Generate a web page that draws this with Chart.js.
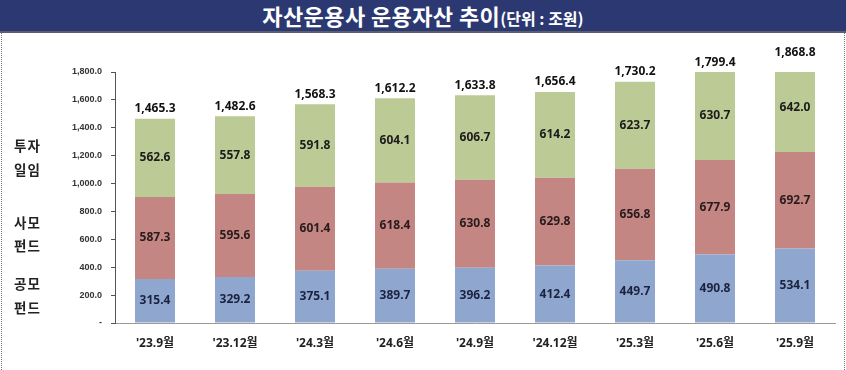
<!DOCTYPE html>
<html>
<head>
<meta charset="utf-8">
<script src="https://cdn.jsdelivr.net/npm/chart.js@4"></script>
<style>
  html, body { margin: 0; padding: 0; background: #fff; }
  #wrap { position: relative; width: 846px; height: 370px; overflow: hidden; background: #fff; }
  #titlebar { position: absolute; left: 0; top: 0; width: 846px; height: 31px; background: #2b3872; border-bottom: 2px solid #5a5e6e; text-align: center; color: #fff; font-family: "Noto Sans CJK KR", sans-serif; font-weight: bold; line-height: 31px; white-space: nowrap; }
  #titlebar .main { font-size: 22px; letter-spacing: 0.4px; }
  #titlebar .sub { font-size: 16px; letter-spacing: 0px; }
  #frameL { position: absolute; left: 1px; top: 33px; width: 0; height: 337px; border-left: 1px dotted #777; }
  #frameR { position: absolute; left: 844px; top: 33px; width: 0; height: 337px; border-left: 1px dotted #777; }
  .side { position: absolute; left: 14px; font-family: "Noto Sans CJK KR", sans-serif; font-weight: bold; font-size: 13.5px; color: #222; line-height: 16px; letter-spacing: 1px; }
  canvas { position: absolute; left: 0; top: 0; }
</style>
</head>
<body>
<div id="wrap">
  <canvas id="c" width="846" height="370"></canvas>
  <div id="titlebar"><span class="main">자산운용사 운용자산 추이</span><span class="sub">(단위 : 조원)</span></div>
  <div id="frameL"></div>
  <div id="frameR"></div>
  <div class="side" style="top:137px">투자</div>
  <div class="side" style="top:161px">일임</div>
  <div class="side" style="top:214px">사모</div>
  <div class="side" style="top:237px">펀드</div>
  <div class="side" style="top:275px">공모</div>
  <div class="side" style="top:299px">펀드</div>
</div>
<script>
const categories = ["'23.9월", "'23.12월", "'24.3월", "'24.6월", "'24.9월", "'24.12월", "'25.3월", "'25.6월", "'25.9월"];
const publicFunds = [315.4, 329.2, 375.1, 389.7, 396.2, 412.4, 449.7, 490.8, 534.1];
const privateFunds = [587.3, 595.6, 601.4, 618.4, 630.8, 629.8, 656.8, 677.9, 692.7];
const discretionary = [562.6, 557.8, 591.8, 604.1, 606.7, 614.2, 623.7, 630.7, 642.0];
const totals = [1465.3, 1482.6, 1568.3, 1612.2, 1633.8, 1656.4, 1730.2, 1799.4, 1868.8];
const yTicks = [0, 200, 400, 600, 800, 1000, 1200, 1400, 1600, 1800];

const fmt = v => v.toLocaleString('en-US', { minimumFractionDigits: 1, maximumFractionDigits: 1 });

const labelPlugin = {
  id: 'labels',
  afterDatasetsDraw(chart) {
    const ctx = chart.ctx;
    const y = chart.scales.y;
    ctx.save();
    ctx.font = 'bold 12px "Noto Sans", "Liberation Sans", sans-serif';
    ctx.textAlign = 'center';
    ctx.textBaseline = 'middle';
    const colors = ['#1c2340', '#2a1c1c', '#1c1c1c'];
    chart.data.datasets.forEach((ds, di) => {
      const meta = chart.getDatasetMeta(di);
      meta.data.forEach((bar, i) => {
        let base = 0;
        for (let k = 0; k < di; k++) base += chart.data.datasets[k].data[i];
        const top = base + ds.data[i];
        const cy = (y.getPixelForValue(base) + y.getPixelForValue(top)) / 2;
        ctx.fillStyle = colors[di];
        ctx.fillText(fmt(ds.data[i]), bar.x, cy);
      });
    });
    const meta0 = chart.getDatasetMeta(0);
    ctx.fillStyle = '#111';
    totals.forEach((t, i) => {
      ctx.fillText(fmt(t), meta0.data[i].x, y.getPixelForValue(t) - 10);
    });
    ctx.restore();
  }
};

new Chart(document.getElementById('c'), {
  type: 'bar',
  data: {
    labels: categories,
    datasets: [
      { label: '공모펀드', data: publicFunds, backgroundColor: '#8fa6cf' },
      { label: '사모펀드', data: privateFunds, backgroundColor: '#c38683' },
      { label: '투자일임', data: discretionary, backgroundColor: '#bccb95' }
    ]
  },
  options: {
    responsive: false,
    animation: false,
    events: [],
    layout: { padding: { top: 72, right: 11, bottom: 0, left: 0 } },
    plugins: { legend: { display: false }, tooltip: { enabled: false }, title: { display: false } },
    datasets: { bar: { barPercentage: 0.5, categoryPercentage: 1.0 } },
    scales: {
      x: {
        stacked: true,
        grid: { display: false, drawTicks: false },
        border: { display: true, color: '#9a9a9a', width: 1 },
        ticks: { color: '#222', padding: 13, font: { family: '"Noto Sans", "Noto Sans CJK KR", sans-serif', size: 12, weight: 'bold' }, maxRotation: 0 },
        afterFit(s) { s.height = 47; }
      },
      y: {
        stacked: true,
        min: 0,
        max: 1800,
        afterBuildTicks(s) { s.ticks = yTicks.map(v => ({ value: v })); },
        grid: { drawOnChartArea: false, drawTicks: true, tickLength: 4, color: '#555' },
        border: { display: true, color: '#555', width: 1 },
        ticks: {
          color: '#333',
          padding: 9,
          font: { family: '"Liberation Sans", sans-serif', size: 9, weight: 'bold' },
          callback: v => v === 0 ? '-' : fmt(v)
        },
        afterFit(s) { s.width = 115; }
      }
    }
  },
  plugins: [labelPlugin]
});
</script>
</body>
</html>
